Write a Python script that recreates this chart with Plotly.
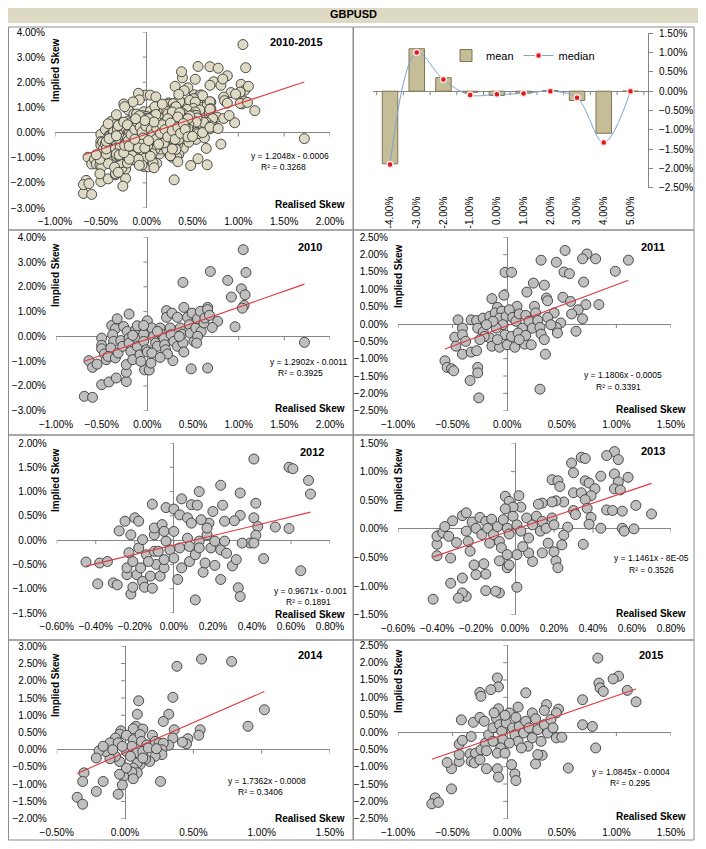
import plotly.graph_objects as go

PAGE_W, PAGE_H = 706, 849
BODY_MARGIN = 8                       # default browser body margin
W, H = PAGE_W - 2 * BODY_MARGIN, PAGE_H - 2 * BODY_MARGIN
FONT = "Liberation Sans, Arial, sans-serif"

# ---------------- DATA (values in percent) ----------------
categories = ["-4.00%", "-3.00%", "-2.00%", "-1.00%", "0.00%", "1.00%", "2.00%", "3.00%", "4.00%", "5.00%"]
mean_vals = [-1.88, 1.10, 0.35, -0.03, -0.11, -0.05, 0.02, -0.24, -1.09, 0.00]
median_vals = [-1.90, 1.00, 0.30, -0.10, -0.08, -0.06, 0.00, -0.17, -1.33, 0.00]

pts_2010 = [(1.05,3.50),(0.69,2.62),(1.08,2.58),(0.88,2.26),(0.39,2.18),(1.03,1.92),(1.07,1.68),(0.92,1.59),(1.06,1.25),(1.04,1.14),
            (0.40,1.17),(0.66,1.17),(1.72,-0.24),(0.96,0.39),(0.77,0.61),(0.71,0.36),(0.66,-1.28),(0.48,-1.31),(0.28,-0.98),(-0.69,-2.42),
            (-0.60,-2.46),(-0.50,-1.95),(-0.42,-1.84),(-0.34,-1.68),(-0.23,-1.82),(-0.64,-0.98),(-0.60,-1.25),(-0.55,-1.12),(-0.20,0.90),(0.00,0.63),
            (-0.03,-1.35),(0.02,-1.36),(0.04,-1.08),(-0.23,-1.45),(-0.23,-1.14),(-0.50,-0.07),(-0.50,-0.36),(-0.50,-0.50),(-0.47,-0.71),(-0.45,-0.94),
            (-0.39,0.44),(-0.35,0.31),(-0.38,0.07),(-0.37,-0.20),(-0.40,-0.47),(-0.43,-0.81),(-0.35,-0.87),(-0.32,-0.67),(-0.29,-0.17),(-0.27,-0.40),
            (-0.26,0.40),(-0.22,0.20),(-0.20,-0.07),(-0.20,-0.27),(-0.18,-0.61),(-0.16,-0.94),(-0.13,0.27),(-0.11,0.43),(-0.12,-0.07),(-0.11,-0.40),
            (-0.08,-0.74),(-0.07,-1.01),(-0.04,0.09),(-0.04,-0.20),(-0.01,-0.54),(0.00,-0.63),(0.05,0.34),(0.07,0.00),(0.09,-0.27),(0.11,-0.40),
            (0.14,0.34),(0.15,0.09),(0.18,-0.07),(0.19,-0.34),(0.20,-0.54),(0.21,1.04),(0.21,0.77),(0.22,-0.71),(0.25,0.34),(0.26,0.07),
            (0.27,0.94),(0.29,-0.20),(0.33,0.77),(0.33,-0.40),(0.36,0.34),(0.38,0.09),(0.39,-0.27),(0.44,0.77),(0.46,0.47),(0.47,0.13),
            (0.49,0.94),(0.51,-0.20),(0.53,0.34),(0.55,0.71),(0.58,1.01),(0.59,0.20),(0.62,0.54),(0.63,0.74),(0.66,1.08),(0.68,0.85),
            (0.55,0.00),(0.54,-0.27),(0.05,-0.67),(0.14,-0.85),(-0.33,0.71),(-0.04,0.44),(-0.16,0.04),(0.11,0.20),(0.35,0.00),(0.40,-0.63)]

pts_2011 = [(0.53,2.12),(0.73,2.02),(0.69,1.88),(0.81,1.88),(1.11,1.84),(0.31,1.84),(0.45,1.78),(0.99,1.52),(0.52,1.50),(0.57,1.45),
            (-0.02,1.49),(0.04,1.49),(0.70,1.21),(0.24,1.18),(0.34,1.12),(-0.03,0.83),(-0.14,0.73),(0.18,0.92),(0.51,0.77),(0.36,0.75),
            (0.37,0.67),(0.58,0.65),(0.72,0.56),(0.84,0.56),(0.65,0.41),(0.25,0.51),(0.09,0.51),(-0.09,0.48),(0.43,0.32),(0.59,0.29),
            (0.69,0.15),(0.49,0.03),(0.45,-0.10),(0.46,-0.26),(0.63,-0.21),(-0.45,0.12),(-0.48,-0.38),(-0.41,-0.12),(-0.41,-0.31),(-0.38,-0.50),
            (-0.47,-0.64),(-0.41,-0.87),(-0.33,-0.81),(-0.28,-0.77),(-0.57,-1.06),(-0.55,-1.25),(-0.51,-1.29),(-0.49,-1.35),(-0.34,-1.63),(-0.27,-1.25),
            (-0.27,-1.41),(-0.26,-2.13),(0.30,-1.88),(0.35,-0.87),(-0.33,0.12),(-0.28,0.10),(-0.22,0.17),(-0.27,-0.12),(-0.22,-0.23),(-0.16,-0.40),
            (-0.14,-0.64),(-0.07,-0.67),(0.00,-0.60),(0.07,-0.67),(0.16,-0.58),(0.22,-0.60),(-0.16,0.22),(-0.11,0.32),(-0.05,0.37),(-0.07,0.17),
            (-0.01,0.22),(0.02,0.41),(0.05,0.19),(0.08,0.08),(0.11,0.29),(0.14,-0.12),(0.17,0.25),(0.20,0.08),(0.23,-0.12),(0.26,0.32),
            (0.28,0.10),(0.30,-0.10),(0.31,-0.29),(0.34,-0.45),(0.37,0.19),(0.40,-0.02),(-0.04,-0.02),(-0.10,-0.12),(-0.13,0.08),(-0.19,-0.02),
            (-0.21,-0.36),(-0.25,-0.45),(-0.02,-0.31),(0.04,-0.36),(0.10,-0.26),(0.17,-0.33),(0.11,-0.45),(-0.09,-0.45)]

pts_2012 = [(0.41,1.67),(0.59,1.50),(0.61,1.47),(0.69,1.23),(0.70,0.95),(0.24,1.13),(0.13,1.00),(0.34,0.97),(0.42,0.76),(0.25,0.72),
            (0.04,0.85),(0.09,0.73),(0.12,0.72),(-0.11,0.74),(-0.04,0.67),(0.00,0.64),(0.20,0.59),(0.34,0.51),(0.41,0.46),(0.03,0.52),
            (0.07,0.46),(0.09,0.35),(0.18,0.35),(0.26,0.39),(0.31,0.40),(0.43,0.28),(0.52,0.27),(0.59,0.24),(0.42,0.10),(0.39,-0.06),
            (0.35,-0.06),(0.41,-0.06),(0.46,-0.38),(0.65,-0.63),(0.33,-0.98),(0.34,-1.16),(0.11,-1.23),(0.24,-0.81),(0.30,-0.53),(0.32,-0.40),
            (0.02,-0.81),(0.04,-0.57),(0.08,-0.44),(0.15,-0.66),(0.16,-0.47),(0.21,-0.52),(-0.45,-0.45),(-0.38,-0.47),(-0.34,-0.44),(-0.39,-0.90),
            (-0.31,-0.88),(-0.29,-0.92),(-0.28,0.19),(-0.25,0.39),(-0.20,0.46),(-0.18,0.39),(-0.22,0.11),(-0.22,-1.11),(-0.21,-0.97),(-0.19,-0.71),
            (-0.24,-0.71),(-0.23,-0.26),(-0.24,-0.57),(-0.21,-0.44),(-0.17,-0.57),(-0.16,-0.85),(-0.15,-0.97),(-0.11,-0.99),(-0.12,-0.74),(-0.09,-0.50),
            (-0.07,-0.74),(-0.05,-0.57),(-0.14,-0.30),(-0.10,-0.23),(-0.18,-0.16),(-0.16,0.01),(-0.10,0.11),(-0.10,0.25),(-0.06,0.32),(-0.04,-0.02),
            (-0.02,-0.20),(0.00,-0.37),(0.03,-0.16),(0.07,0.04),(0.08,-0.13),(0.11,-0.30),(0.13,-0.02),(0.17,0.11),(0.19,-0.16),(0.21,-0.02),
            (0.24,-0.20),(0.26,-0.02),(0.27,-0.27),(-0.05,-0.40),(-0.08,-0.23),(-0.13,-0.44),(-0.05,0.18),(0.00,0.18),(0.13,-0.16),(0.17,0.25),
            (0.14,0.42)]

pts_2013 = [(0.51,1.35),(0.47,1.28),(0.53,1.21),(0.34,1.25),(0.36,1.23),(0.29,1.15),(0.30,0.98),(0.51,0.96),(0.44,0.92),(0.58,0.90),
            (0.19,0.86),(0.22,0.84),(0.23,0.74),(0.36,0.84),(0.38,0.80),(0.53,0.82),(0.51,0.70),(0.54,0.68),(0.41,0.70),(0.39,0.58),
            (0.30,0.63),(0.34,0.63),(0.36,0.51),(0.25,0.47),(0.21,0.49),(0.19,0.47),(0.14,0.45),(0.12,0.43),(-0.05,0.57),(0.02,0.58),
            (-0.03,0.48),(0.03,0.38),(-0.01,0.38),(-0.05,0.35),(0.47,0.33),(0.50,0.32),(0.55,0.31),(0.62,0.41),(0.70,0.26),(0.30,0.32),
            (0.31,0.25),(0.37,0.36),(0.39,0.20),(0.38,0.08),(0.44,0.01),(0.55,0.01),(0.56,-0.04),(0.61,0.00),(0.27,0.03),(0.25,-0.11),
            (0.24,-0.28),(0.35,-0.27),(0.20,-0.40),(0.21,-0.56),(0.22,-0.68),(0.17,-0.25),(0.14,-0.42),(0.09,-0.57),(0.07,-0.42),(0.01,-1.02),
            (0.01,-0.45),(-0.04,-0.68),(-0.03,-0.63),(-0.08,-0.56),(-0.08,-1.12),(-0.10,-1.09),(-0.15,-1.08),(-0.15,-0.79),(-0.16,-0.61),(-0.20,-0.80),
            (-0.21,-0.63),(-0.25,-1.18),(-0.27,-1.12),(-0.29,-1.21),(-0.27,-0.86),(-0.33,-0.95),(-0.42,-1.23),(-0.40,-0.47),(-0.40,-0.27),(-0.40,-0.13),
            (-0.37,-0.07),(-0.36,0.04),(-0.34,-0.13),(-0.33,-0.51),(-0.32,0.14),(-0.30,-0.24),(-0.27,0.23),(-0.25,0.28),(-0.25,-0.04),(-0.24,-0.22),
            (-0.23,-0.39),(-0.22,0.12),(-0.20,0.01),(-0.18,0.20),(-0.17,-0.10),(-0.15,0.13),(-0.14,0.01),(-0.13,-0.25),(-0.12,0.17),(-0.11,-0.10),
            (-0.09,0.04),(-0.08,-0.22),(-0.07,-0.33),(-0.06,0.16),(-0.04,0.01),(-0.03,-0.09),(-0.01,0.22),(0.01,0.07),(0.03,-0.04),(0.06,0.19),
            (0.07,-0.16),(0.09,0.07),(0.11,0.22),(0.13,-0.04),(0.14,0.13),(0.16,0.01),(0.19,0.19),(0.20,0.07),(0.04,-0.31),(-0.04,-0.45)]

pts_2014 = [(0.56,2.63),(0.78,2.56),(0.38,2.42),(0.35,1.52),(0.10,1.42),(1.02,1.16),(0.09,1.03),(0.32,1.03),(0.28,0.82),(0.90,0.68),
            (0.08,0.68),(0.55,0.58),(0.54,0.42),(0.36,0.58),(0.35,0.34),(0.46,0.32),(0.45,0.17),(0.42,0.22),(0.32,0.13),(0.13,0.60),
            (0.06,0.61),(-0.03,0.55),(-0.04,0.45),(-0.07,0.34),(-0.11,0.20),(-0.05,0.20),(0.01,0.42),(0.06,0.29),(0.11,0.44),(0.12,0.24),
            (0.16,0.14),(0.20,0.42),(0.22,0.24),(0.25,0.19),(0.28,0.19),(0.27,0.00),(0.27,-0.14),(0.22,-0.19),(0.18,-0.34),(0.15,-0.27),
            (0.11,-0.43),(0.09,-0.38),(0.06,-0.53),(0.09,-0.67),(0.05,-0.65),(0.06,-0.84),(-0.01,-0.77),(-0.04,-0.71),(-0.02,-1.02),(-0.05,-1.29),
            (0.26,-0.92),(0.01,-0.53),(-0.04,-0.34),(-0.07,-0.19),(-0.11,-0.26),(-0.14,-0.05),(-0.19,-0.03),(-0.16,0.10),(-0.21,-0.24),(-0.16,-0.92),
            (-0.21,-1.21),(-0.30,-0.67),(-0.31,-0.92),(-0.35,-1.38),(-0.31,-1.58),(0.01,-0.05),(0.05,0.10),(0.09,-0.09),(0.13,-0.05),(0.17,0.05),
            (0.23,0.03),(0.13,-0.24),(0.04,-0.19),(-0.02,0.10),(-0.09,0.00)]

pts_2015 = [(0.83,2.13),(1.02,1.61),(0.97,1.53),(0.84,1.41),(0.85,1.27),(0.88,1.17),(1.10,1.20),(1.18,0.87),(0.69,0.93),(-0.09,1.56),
            (-0.08,1.30),(-0.15,1.22),(-0.25,1.14),(-0.24,1.03),(0.17,1.13),(0.36,0.79),(0.47,0.66),(0.45,0.55),(0.34,0.62),(0.23,0.55),
            (0.10,0.72),(-0.08,0.67),(-0.42,0.35),(-0.31,0.28),(-0.25,0.42),(-0.21,0.31),(0.69,0.21),(0.78,0.16),(0.81,-0.46),(0.56,-1.04),
            (0.26,-0.92),(0.32,-0.67),(0.28,-0.65),(0.07,-1.21),(0.08,-1.40),(0.04,-0.94),(-0.09,-1.06),(-0.08,-1.30),(-0.19,-1.06),(-0.51,-1.06),
            (-0.55,-0.88),(-0.51,-1.64),(-0.66,-1.90),(-0.69,-2.07),(-0.63,-2.03),(-0.44,-0.85),(-0.44,-0.65),(-0.44,-0.35),(-0.41,-0.24),(-0.33,-0.13),
            (-0.34,-0.63),(-0.29,-0.61),(-0.33,-0.85),(-0.30,-0.89),(-0.25,-0.80),(-0.24,-0.51),(-0.20,-0.32),(-0.19,-0.54),(-0.17,-0.08),(-0.13,0.12),
            (-0.10,0.40),(-0.07,0.21),(-0.05,0.02),(-0.04,-0.22),(-0.06,-0.46),(-0.09,-0.61),(-0.02,-0.61),(-0.01,0.26),(0.02,0.55),(0.05,0.12),
            (0.07,-0.08),(0.10,-0.27),(0.11,0.16),(0.15,-0.03),(0.17,0.31),(0.19,-0.41),(0.20,0.12),(0.23,-0.17),(0.26,0.38),(0.28,0.07),
            (0.31,-0.27),(0.34,0.21),(0.37,-0.03),(0.40,0.36),(0.42,0.12),(0.45,-0.17),(0.50,-0.15),(0.08,0.42),(-0.02,0.48),(-0.12,0.55),
            (0.13,-0.46),(0.02,-0.32),(-0.13,-0.27)]

pts_all = pts_2010 + pts_2011 + pts_2012 + pts_2013 + pts_2014 + pts_2015

panel_titles = ["2010-2015", "2010", "2011", "2012", "2013", "2014", "2015"]
slopes = [1.2048, 1.2902, 1.1806, 0.9671, 1.1461, 1.7362, 1.0845]
intercepts = [-0.0006, -0.0011, -0.0005, -0.001, -0.00008, -0.0008, -0.0004]
eq_texts = ["y = 1.2048x - 0.0006", "y = 1.2902x - 0.0011", "y = 1.1806x - 0.0005", "y = 0.9671x - 0.001",
            "y = 1.1461x - 8E-05", "y = 1.7362x - 0.0008", "y = 1.0845x - 0.0004"]
r2_texts = ["0.3268", "0.3925", "0.3391", "0.1891", "0.3526", "0.3406", "0.295"]
point_sets = [pts_all, pts_2010, pts_2011, pts_2012, pts_2013, pts_2014, pts_2015]

# ---------------- LAYOUT HELPERS (page pixels -> paper) ----------------
def fx(p):
    return (p - BODY_MARGIN) / W

def fy(p):
    return 1 - (p - BODY_MARGIN) / H

AXC = "#868686"

geo = [
    (1, (55, 330, 32, 208), [-1, 2], 0.5, [-3, 4], 1.0, (296, 42), (290, 156), (283, 167), (55, 70), (310, 204)),
    (3, (56, 330, 237.3, 410.7), [-1, 2], 0.5, [-3, 4], 1.0, (310, 247), (308, 362), (300, 373), (55, 275), (310, 408)),
    (4, (398, 671, 237.3, 410.7), [-1, 1.5], 0.5, [-2.5, 2.5], 0.5, (653, 247), (623, 375), (618, 387), (398, 276), (651, 409)),
    (5, (56.7, 330, 443, 613), [-0.6, 0.8], 0.2, [-1.5, 2.0], 0.5, (312, 452), (310, 591), (308, 602), (55, 480), (310, 614)),
    (6, (398, 671, 443, 614.7), [-0.6, 0.8], 0.2, [-1.5, 1.5], 0.5, (653, 451), (651, 558), (651, 570), (398, 480), (651, 613)),
    (7, (56.7, 330, 646.3, 818.7), [-0.5, 1.5], 0.5, [-2.0, 3.0], 0.5, (310, 655), (267, 781), (260, 792), (55, 685), (310, 818)),
    (8, (398, 671, 645.3, 818.7), [-1, 1.5], 0.5, [-2.5, 2.5], 0.5, (651, 655), (631, 772), (630, 783), (398, 681), (651, 816)),
]

fig = go.Figure()
layout = dict(width=W, height=H, autosize=False, margin=dict(l=0, r=0, t=0, b=0, pad=0, autoexpand=False),
              paper_bgcolor="white", plot_bgcolor="white",
              font=dict(family=FONT, size=10, color="#000000"),
              showlegend=True)
shapes = []
annotations = []

def axname(i):
    return ("xaxis" if i == 1 else f"xaxis{i}"), ("yaxis" if i == 1 else f"yaxis{i}"), \
           ("x" if i == 1 else f"x{i}"), ("y" if i == 1 else f"y{i}")

def ticks_between(lo, hi, step):
    n = int(round((hi - lo) / step))
    return [round(lo + k * step, 6) for k in range(n + 1)]

shapes.append(dict(type="rect", xref="paper", yref="paper", x0=fx(4), x1=fx(706), y0=fy(23), y1=fy(4),
                   fillcolor="#ddd9c3", line=dict(width=0), layer="below"))
annotations.append(dict(text="<b>GBPUSD</b>", xref="paper", yref="paper", x=fx(353), y=fy(14),
                        showarrow=False, font=dict(size=11, family=FONT), xanchor="center", yanchor="middle"))
col_edges = [8, 353, 694]
row_edges = [27, 230, 435, 640, 840]
for r in range(4):
    for c in range(2):
        shapes.append(dict(type="rect", xref="paper", yref="paper",
                           x0=fx(col_edges[c]) + 0.5 / W, x1=fx(col_edges[c + 1]),
                           y0=fy(row_edges[r + 1]), y1=fy(row_edges[r]),
                           line=dict(color="#8c8c8c", width=1), fillcolor="rgba(0,0,0,0)", layer="below"))

for k, g in enumerate(geo):
    idx, box, xr, xd, yr, yd, tpos, epos, rpos, ipos, spos = g
    xa, ya, xt, yt = axname(idx)
    pts = point_sets[k]
    xs = [p[0] for p in pts]
    ys = [p[1] for p in pts]
    layout[xa] = dict(domain=[fx(box[0]), fx(box[1])], range=xr, dtick=xd, tick0=0, anchor=yt,
                      showgrid=False, showline=False, ticks="", tickformat=".2f", ticksuffix="%",
                      zeroline=True, zerolinecolor=AXC, zerolinewidth=1, fixedrange=True, automargin=False,
                      tickfont=dict(size=10, family=FONT), ticklabelstandoff=6)
    layout[ya] = dict(domain=[fy(box[3]), fy(box[2])], range=yr, dtick=yd, tick0=0, anchor=xt,
                      showgrid=False, showline=False, ticks="", tickformat=".2f", ticksuffix="%",
                      zeroline=True, zerolinecolor=AXC, zerolinewidth=1, fixedrange=True, automargin=False,
                      tickfont=dict(size=10, family=FONT), ticklabelstandoff=9)
    for t in ticks_between(xr[0], xr[1], xd):
        shapes.append(dict(type="line", xref=xt, yref=yt, x0=t, x1=t, ysizemode="pixel", yanchor=0,
                           y0=0, y1=-4, line=dict(color=AXC, width=1), layer="below"))
    for t in ticks_between(yr[0], yr[1], yd):
        shapes.append(dict(type="line", xref=xt, yref=yt, y0=t, y1=t, xsizemode="pixel", xanchor=0,
                           x0=0, x1=-4, line=dict(color=AXC, width=1), layer="below"))
    fill = "#ddd9c3" if k == 0 else "#bfbfbf"
    fig.add_trace(go.Scatter(x=xs, y=ys, mode="markers", xaxis=xt, yaxis=yt, showlegend=False,
                             marker=dict(size=10, color=fill, line=dict(color="#3a3a3a", width=0.9)),
                             hoverinfo="skip", cliponaxis=False))
    lx = [min(xs), max(xs)]
    ly = [slopes[k] * v + intercepts[k] * 100 for v in lx]
    fig.add_trace(go.Scatter(x=lx, y=ly, mode="lines", xaxis=xt, yaxis=yt, showlegend=False,
                             line=dict(color="#e0393e", width=1.1), hoverinfo="skip"))
    annotations += [
        dict(text="<b>%s</b>" % panel_titles[k], xref="paper", yref="paper", x=fx(tpos[0]), y=fy(tpos[1]),
             showarrow=False, font=dict(size=11, family=FONT), xanchor="center", yanchor="middle"),
        dict(text=eq_texts[k], xref="paper", yref="paper", x=fx(epos[0]), y=fy(epos[1]),
             showarrow=False, font=dict(size=8.5, family=FONT), xanchor="center", yanchor="middle"),
        dict(text="R² = " + r2_texts[k], xref="paper", yref="paper", x=fx(rpos[0]), y=fy(rpos[1]),
             showarrow=False, font=dict(size=8.5, family=FONT), xanchor="center", yanchor="middle"),
        dict(text="<b>Implied Skew</b>", xref="paper", yref="paper", x=fx(ipos[0]), y=fy(ipos[1]),
             showarrow=False, textangle=-90, font=dict(size=10, family=FONT), xanchor="center", yanchor="middle"),
        dict(text="<b>Realised Skew</b>", xref="paper", yref="paper", x=fx(spos[0]), y=fy(spos[1]),
             showarrow=False, font=dict(size=10, family=FONT), xanchor="center", yanchor="middle"),
    ]

fig.add_trace(go.Bar(x=categories, y=mean_vals, name="mean", xaxis="x2", yaxis="y2",
                     marker=dict(color="#c4bd97", line=dict(color="#7f7650", width=1)), hoverinfo="skip"))
fig.add_trace(go.Scatter(x=categories, y=median_vals, name="median", xaxis="x2", yaxis="y2",
                         mode="lines+markers", line=dict(color="#7ea3cf", width=1, shape="spline"),
                         marker=dict(color="#e3161c", size=6, line=dict(color="#fbe3e3", width=1.5)),
                         hoverinfo="skip", cliponaxis=False))
layout["xaxis2"] = dict(domain=[fx(372.5), fx(648)], anchor="y2", type="category", showgrid=False,
                        showline=False, ticks="", tickangle=-90, fixedrange=True, automargin=False,
                        tickfont=dict(size=10, family=FONT), ticklabelstandoff=6)
layout["yaxis2"] = dict(domain=[fy(187.7), fy(33.3)], anchor="x2", side="right", range=[-2.5, 1.5],
                        dtick=0.5, tick0=0, showgrid=False, showline=True, linecolor=AXC, linewidth=1,
                        ticks="outside", ticklen=4, tickcolor=AXC, tickformat=".2f", ticksuffix="%",
                        zeroline=True, zerolinecolor=AXC, zerolinewidth=1, fixedrange=True, automargin=False,
                        tickfont=dict(size=10, family=FONT), ticklabelstandoff=4)
for i in range(len(categories) + 1):
    shapes.append(dict(type="line", xref="x2", yref="y2", x0=i - 0.5, x1=i - 0.5, ysizemode="pixel",
                       yanchor=0, y0=0, y1=-4, line=dict(color=AXC, width=1), layer="below"))
layout["bargap"] = 0.42
layout["legend"] = dict(orientation="h", x=fx(446), y=fy(41), xanchor="left", yanchor="top",
                        font=dict(size=11, family=FONT), bgcolor="rgba(0,0,0,0)", itemwidth=30,
                        tracegroupgap=0)

layout["shapes"] = shapes
layout["annotations"] = annotations
fig.update_layout(**layout)
fig.write_html("out.html", config={"displayModeBar": False, "responsive": False})
